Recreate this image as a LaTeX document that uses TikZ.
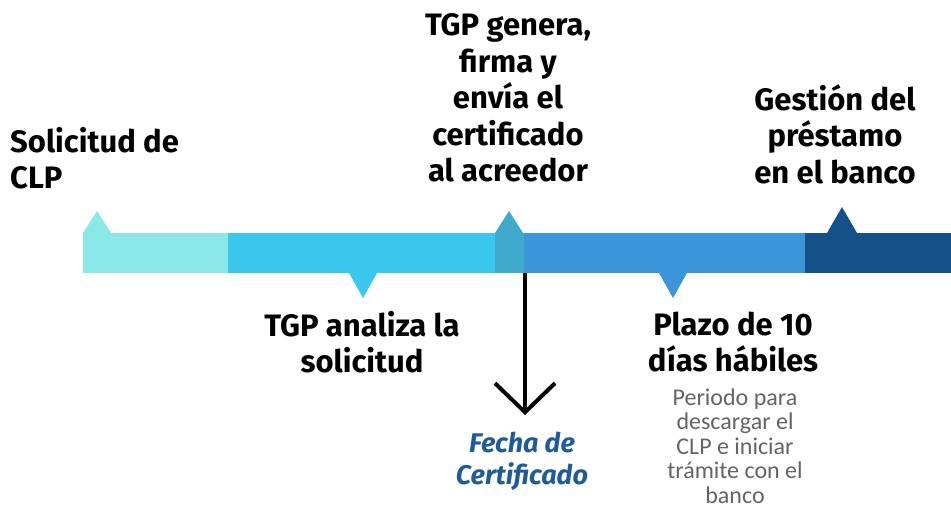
\documentclass[tikz,border=0pt]{standalone}
\usepackage{fontspec}
\usepackage{xcolor}
\usepackage{tikz}
\usetikzlibrary{arrows.meta}
\newfontfamily\headfont{Fira Sans}
\newfontfamily\notefont{Carlito}
\definecolor{mint}{RGB}{139,232,232}
\definecolor{sky}{RGB}{58,200,238}
\definecolor{teal}{RGB}{64,170,204}
\definecolor{ocean}{RGB}{58,150,216}
\definecolor{navy}{RGB}{21,80,137}
\definecolor{ink}{RGB}{31,90,153}
\definecolor{note}{RGB}{100,100,100}
\tikzset{
  head/.style={align=center, inner sep=0pt, font=\headfont\bfseries\fontsize{31}{36.5}\selectfont},
  sidenote/.style={align=center, inner sep=0pt, text=note, font=\notefont\fontsize{24}{24.5}\selectfont},
}

\begin{document}
\begin{tikzpicture}[x=1pt,y=-1pt]
    \useasboundingbox (0,0) rectangle (951,514);
    \coordinate (B1) at (83, 233);
    \coordinate (B2) at (228, 273);
    \coordinate (B3) at (495, 233);
    \coordinate (B4) at (524, 273);
    \coordinate (B5) at (805, 233);
    \coordinate (B6) at (951, 273);

    % bar segments
    \fill[mint] (B1) rectangle (B2);
    \fill[sky] (228,233) rectangle (495,273);
    \fill[teal] (B3) rectangle (B4);
    \fill[ocean] (524,233) rectangle (805,273);
    \fill[navy] (B5) rectangle (B6);

    % markers
    \fill[mint] (83,233) -- (97,211) -- (111,233) -- cycle;
    \fill[teal] (495,233) -- (509,211) -- (523,233) -- cycle;
    \fill[navy] (827,233) -- (842,207) -- (857,233) -- cycle;
    \fill[sky] (349,273) -- (363,298) -- (377,273) -- cycle;
    \fill[ocean] (659,273) -- (673,298) -- (687,273) -- cycle;

    \coordinate (AR1) at (525, 273);
    \coordinate (AR2) at (525, 415);
    \draw[line width=4pt, -{Straight Barb[length=29pt,width=60pt]}] (AR1) -- (AR2);

    \node[head, align=left, anchor=west] (clp) at (10,158) {Solicitud de\\CLP};
    \node[head] (genera) at (508,98) {TGP genera,\\firma y\\envía el\\certificado\\al acreedor};
    \node[head] (gestion) at (835,134) {Gestión del\\préstamo\\en el banco};
    \node[head] (analiza) at (362,342) {TGP analiza la\\solicitud};
    \node[head] (plazo) at (733,342) {Plazo de 10\\días hábiles};
    \node[sidenote] (periodo) at (735,446) {Periodo para\\descargar el\\CLP e iniciar\\trámite con el\\banco};
    \node[head, text=ink, font=\headfont\bfseries\itshape\fontsize{27}{32}\selectfont] (fecha) at (522,461) {Fecha de\\Certificado};
\end{tikzpicture}
\end{document}
